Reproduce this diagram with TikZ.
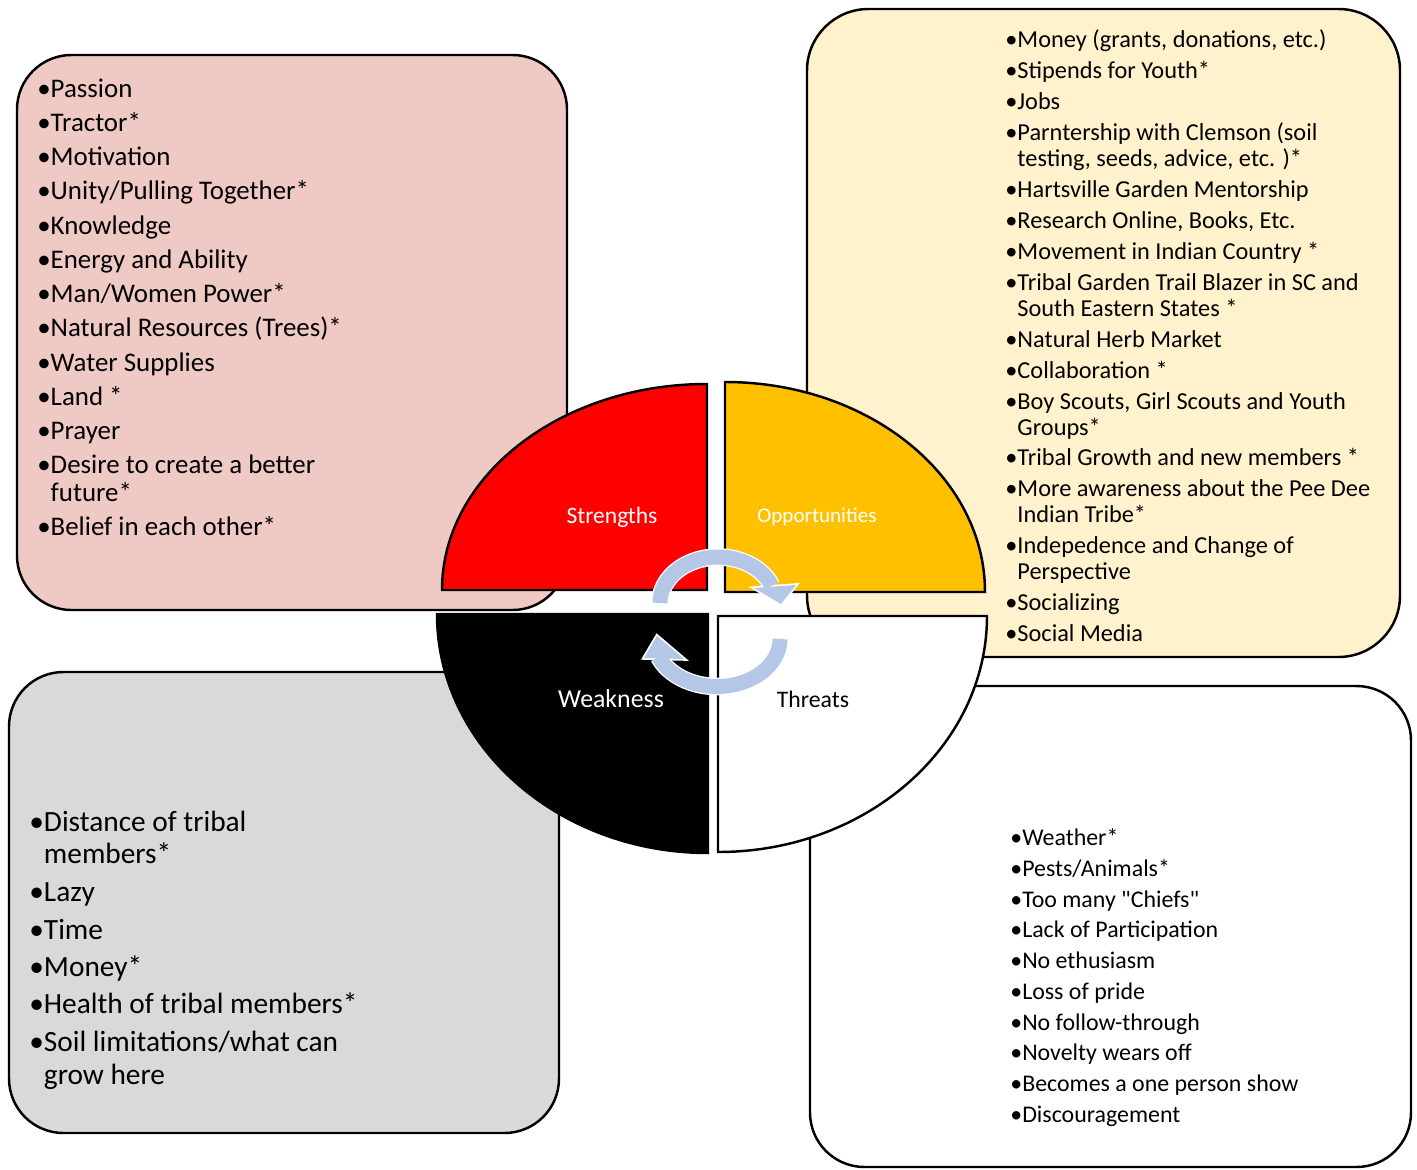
\documentclass[tikz,border=0pt]{standalone}
\usepackage{fontspec}
\setmainfont{Carlito}
\newfontfamily\plaincal{Carlito}
\definecolor{spink}{HTML}{EFC9C4}
\definecolor{oyel}{HTML}{FFF2CC}
\definecolor{wgrey}{HTML}{D9D9D9}
\definecolor{ogold}{HTML}{FFC000}
\definecolor{arrowblue}{HTML}{B4C7E7}
\begin{document}
\begin{tikzpicture}[x=0.02cm,y=0.02cm,
  box/.style={draw=black,line width=1.4pt,rounded corners=31pt},
  quad/.style={draw=black,line width=1.4pt},
  lt/.style={anchor=base west,inner sep=0pt},
  slab/.style={inner sep=0pt,anchor=center},
  band/.style={arrowblue,line width=8.5pt},
  bandw/.style={white,line width=10pt}]
\useasboundingbox (0,0) rectangle (1417,-1170);

% ---- background boxes
\draw[box,fill=spink] (17,-55) rectangle (567,-610);
\draw[box,fill=oyel,rounded corners=35pt] (807,-9) rectangle (1400,-657);
\draw[box,fill=wgrey] (9,-672) rectangle (559,-1133);
\draw[box,fill=white] (810,-686) rectangle (1411,-1167);

% ---- box texts
\foreach \y/\t [count=\i] in {
  97/{\textbullet Passion},
  131/{\textbullet Tractor*},
  165/{\textbullet Motivation},
  199/{\textbullet Unity/Pulling Together*},
  234/{\textbullet Knowledge},
  268/{\textbullet Energy and Ability},
  302/{\textbullet Man/Women Power*},
  336/{\textbullet Natural Resources (Trees)*},
  371/{\textbullet Water Supplies},
  405/{\textbullet Land *},
  439/{\textbullet Prayer},
  473/{\textbullet Desire to create a better},
  501/{\phantom{\textbullet}future*},
  535/{\textbullet Belief in each other*}}
  \node[lt,font=\fontsize{15.3}{17}\selectfont] (s\i) at (37,-\y) {\t};

\foreach \y/\t [count=\i] in {
  47.5/{\textbullet Money (grants, donations, etc.)},
  78.5/{\textbullet Stipends for Youth*},
  109.5/{\textbullet Jobs},
  140.5/{\textbullet Parntership with Clemson (soil},
  166.5/{\phantom{\textbullet}testing, seeds, advice, etc. )*},
  197.5/{\textbullet Hartsville Garden Mentorship},
  228.5/{\textbullet Research Online, Books, Etc.},
  259.5/{\textbullet Movement in Indian Country *},
  290.5/{\textbullet Tribal Garden Trail Blazer in SC and},
  316.5/{\phantom{\textbullet}South Eastern States *},
  347.5/{\textbullet Natural Herb Market},
  378.5/{\textbullet Collaboration *},
  409.5/{\textbullet Boy Scouts, Girl Scouts and Youth},
  435.5/{\phantom{\textbullet}Groups*},
  465.5/{\textbullet Tribal Growth and new members *},
  496.5/{\textbullet More awareness about the Pee Dee},
  522.5/{\phantom{\textbullet}Indian Tribe*},
  553.5/{\textbullet Indepedence and Change of},
  579.5/{\phantom{\textbullet}Perspective},
  610.5/{\textbullet Socializing},
  641.5/{\textbullet Social Media}}
  \node[lt,font=\fontsize{13.85}{16}\selectfont] (o\i) at (1005,-\y) {\t};

\foreach \y/\t [count=\i] in {
  831/{\textbullet Distance of tribal},
  863/{\phantom{\textbullet}members*},
  901/{\textbullet Lazy},
  939/{\textbullet Time},
  976/{\textbullet Money*},
  1013/{\textbullet Health of tribal members*},
  1051/{\textbullet Soil limitations/what can},
  1084/{\phantom{\textbullet}grow here}}
  \node[lt,font=\fontsize{16.7}{19}\selectfont] (w\i) at (29,-\y) {\t};

\foreach \y/\t [count=\i] in {
  845.5/{\textbullet Weather*},
  876.5/{\textbullet Pests/Animals*},
  907.5/{\textbullet {\plaincal Too many "Chiefs"}},
  937.5/{\textbullet Lack of Participation},
  968.5/{\textbullet No ethusiasm},
  999.5/{\textbullet Loss of pride},
  1030.5/{\textbullet No follow-through},
  1060.5/{\textbullet Novelty wears off},
  1091.5/{\textbullet Becomes a one person show},
  1122.5/{\textbullet Discouragement}}
  \node[lt,font=\fontsize{13.6}{16}\selectfont] (t\i) at (1010,-\y) {\t};

% ---- quadrants
\draw[quad,fill=red] (707,-590) -- (707,-384)
  arc[start angle=90,end angle=180,x radius=265,y radius=206] -- cycle;
\draw[quad,fill=ogold] (725,-592) -- (725,-382)
  arc[start angle=90,end angle=0,x radius=260,y radius=210] -- cycle;
\draw[quad,fill=black] (708,-614) -- (437,-614)
  arc[start angle=180,end angle=270,x radius=271,y radius=239] -- cycle;
\draw[quad,fill=white] (718,-616) -- (718,-852)
  arc[start angle=270,end angle=360,x radius=269,y radius=236] -- cycle;

% ---- quadrant labels
\node[slab,text=white,font=\fontsize{13.4}{16}\selectfont] (lS) at (612,-517) {Strengths};
\node[slab,text=white,font=\fontsize{12}{14}\selectfont] (lO) at (817,-517) {Opportunities};
\node[slab,text=white,font=\fontsize{14.7}{17}\selectfont] (lW) at (611,-699) {Weakness};
\node[slab,text=black,font=\fontsize{13.5}{16}\selectfont] (lT) at (813,-699) {Threats};

% ---- circular arrows
\draw[bandw] (660,-603) arc[start angle=180,end angle=22,x radius=58,y radius=46];
\draw[bandw] (780,-639) arc[start angle=0,end angle=-158,x radius=63,y radius=47.5];
\draw[white,line width=2pt,line join=miter] (754,-588) -- (781,-604) -- (796,-585) -- cycle;
\draw[white,line width=2pt,line join=miter] (644,-658) -- (657,-636) -- (684,-659) -- cycle;
\draw[band] (660,-603) arc[start angle=180,end angle=22,x radius=58,y radius=46];
\draw[band] (780,-639) arc[start angle=0,end angle=-158,x radius=63,y radius=47.5];
\fill[arrowblue] (754,-588) -- (781,-604) -- (796,-585) -- cycle;
\fill[arrowblue] (644,-658) -- (657,-636) -- (684,-659) -- cycle;
\end{tikzpicture}
\end{document}
